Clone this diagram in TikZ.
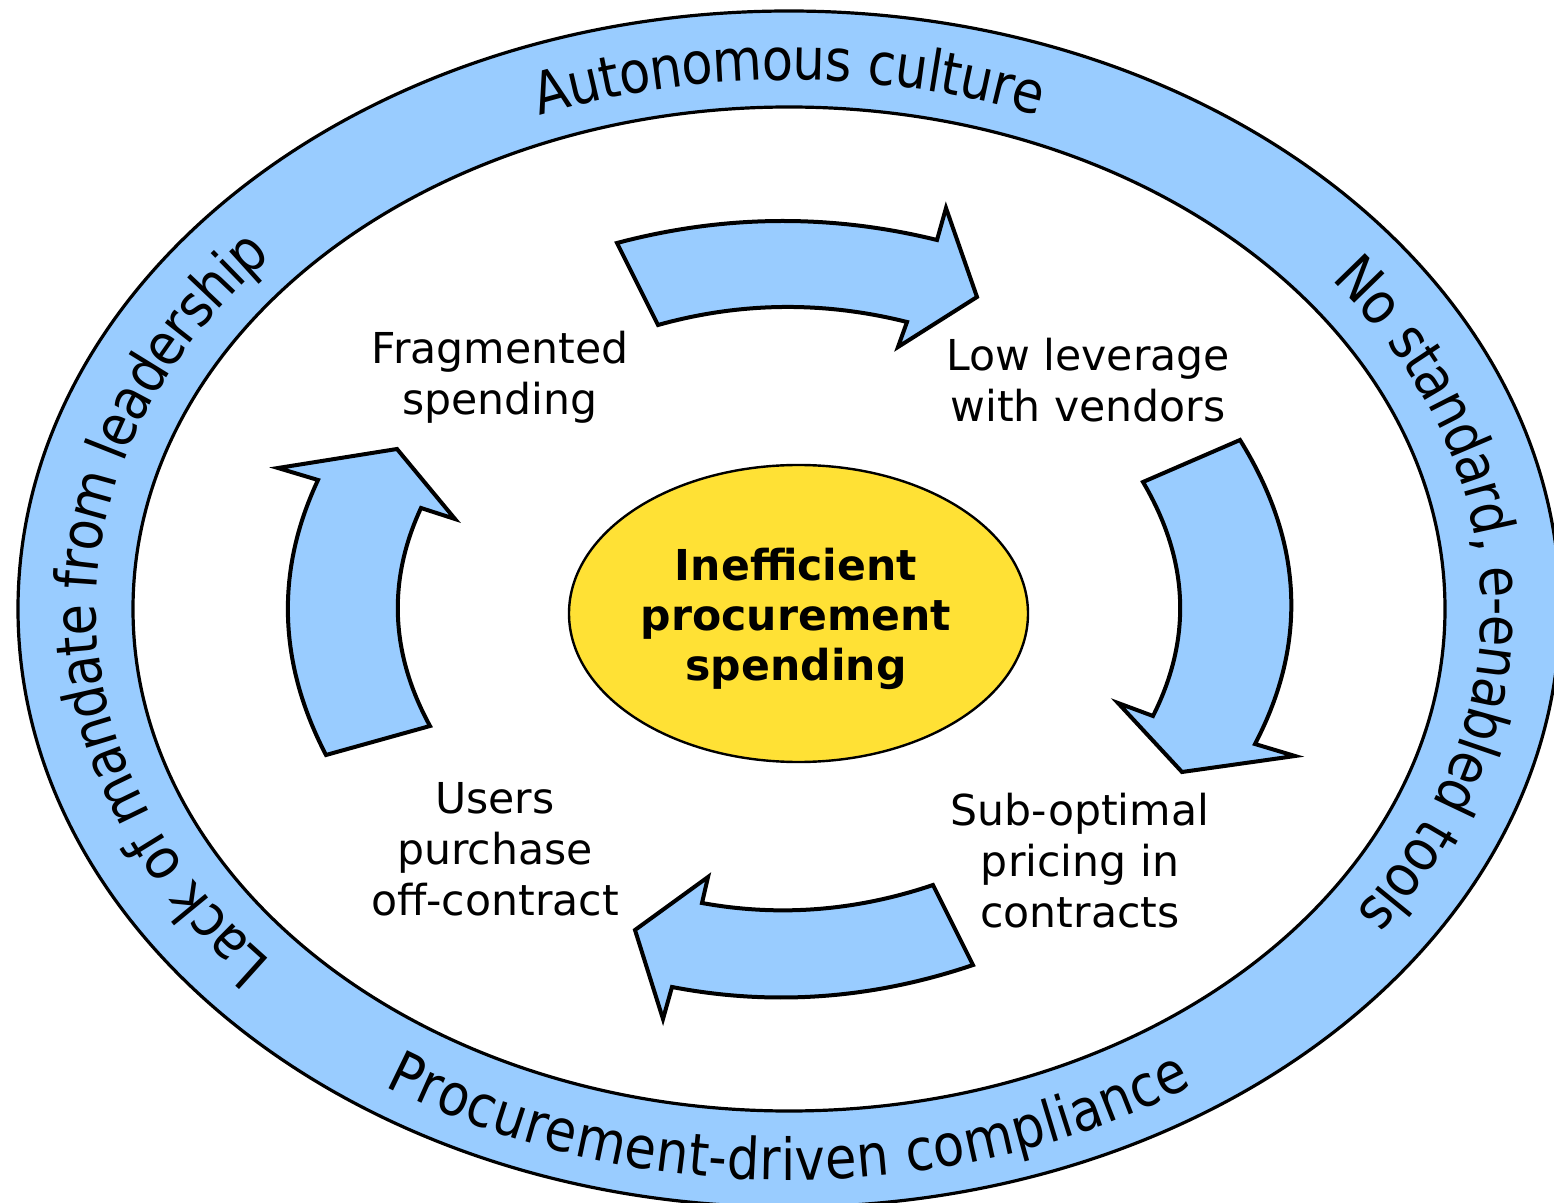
\documentclass[tikz,border=0pt]{standalone}
\usepackage{fontspec}
\setmainfont{DejaVu Sans}
\newfontfamily\ringfam[FakeStretch=0.88]{DejaVu Sans}
\usetikzlibrary{decorations.text,shapes.geometric}
\definecolor{ringblue}{HTML}{99CCFF}
\definecolor{coreyellow}{HTML}{FFE135}
\begin{document}
\begin{tikzpicture}[x=0.5pt,y=-0.5pt,
  bluearrow/.style={fill=ringblue,draw=black,line width=2pt,line join=miter},
  lbl/.style={font=\fontsize{21.3}{25.5}\selectfont,align=center,inner sep=0pt},
  corelbl/.style={font=\bfseries\fontsize{21.3}{25}\selectfont,align=center,inner sep=0pt},
  ringline/.style={draw=black,line width=1.6pt},
  ringtext/.style={decorate,decoration={text along path,text align=center,raise=-10.5pt,
      text={|\ringfam\fontsize{29}{29}\selectfont|#1}}}]
\useasboundingbox (0,0) rectangle (1554,1203);
\clip (0,0) rectangle (1554,1203);
\fill[white] (0,0) rectangle (1554,1203);
\coordinate (C) at (789,609);
% ring
\path[ringline,fill=ringblue] (C) ellipse [x radius=385.5pt, y radius=299pt];
\path[ringline,fill=white] (C) ellipse [x radius=328pt, y radius=251pt];
% ring texts
\path[ringtext={Autonomous culture}]
  ([shift={(160:356.75pt and 275pt)}]C) arc[start angle=160,end angle=20,x radius=356.75pt,y radius=275pt];
\path[ringtext={Lack of mandate from leadership}]
  ([shift={(250:356.75pt and 275pt)}]C) arc[start angle=250,end angle=110,x radius=356.75pt,y radius=275pt];
\path[ringtext={No standard, e-enabled tools}]
  ([shift={(71.5:356.75pt and 275pt)}]C) arc[start angle=71.5,end angle=-68.5,x radius=356.75pt,y radius=275pt];
\path[ringtext={Procurement-driven compliance}]
  ([shift={(200:356.75pt and 275pt)}]C) arc[start angle=200,end angle=340,x radius=356.75pt,y radius=275pt];
% arrows
\draw[bluearrow] (617,243) .. controls (723.7,214.7) and (830.3,213.7) .. (937,240) -- (946,208) -- (977,297)
  -- (898,347) -- (907,322) .. controls (823.3,301) and (740.3,302) .. (658,325) -- cycle;
\draw[bluearrow] (1240,440) .. controls (1303,541.3) and (1308,642.7) .. (1255,744) -- (1295,756) -- (1182,772)
  -- (1118,703) -- (1153,716) .. controls (1192.3,638) and (1189,560) .. (1143,482) -- cycle;
\draw[bluearrow] (933,885) .. controls (856,911) and (779,917) .. (702,903) -- (708,877) -- (635,930)
  -- (663,1019) -- (672,987) .. controls (772.3,1006.3) and (872.7,999) .. (973,965) -- cycle;
\draw[bluearrow] (318,480) .. controls (275.3,571) and (278,662.7) .. (326,755) -- (430,726)
  .. controls (390.3,653.3) and (387.3,580.7) .. (421,508) -- (455,519) -- (397,449) -- (278,468) -- cycle;
% centre
\node[ellipse,draw=black,line width=1.2pt,fill=coreyellow,minimum width=229.5pt,minimum height=148.5pt,inner sep=0pt] (core) at (798.5,613.5) {};
\node[corelbl] (coretext) at (796,619) {Inefficient\\procurement\\spending};
% labels
\node[lbl] (frag) at (500,377) {Fragmented\\spending};
\node[lbl] (lowlev) at (1088,380) {Low leverage\\with vendors};
\node[lbl] (subopt) at (1080,861) {Sub-optimal\\pricing in\\contracts};
\node[lbl] (users) at (495,849) {Users\\purchase\\off-contract};
\end{tikzpicture}
\end{document}
